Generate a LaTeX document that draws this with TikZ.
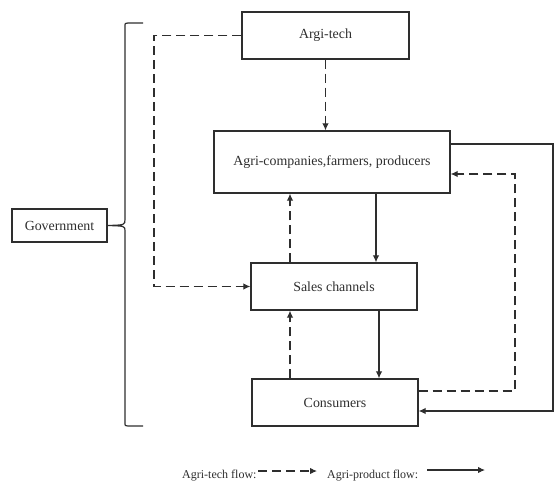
\documentclass[tikz,border=0pt]{standalone}
\usepackage{fontspec}
\setmainfont{Liberation Serif}
\usetikzlibrary{arrows.meta}
\definecolor{ink}{HTML}{2E2E2E}

\begin{document}
\begin{tikzpicture}[x=1pt, y=-1pt,
    box/.style={draw=ink, line width=1.3pt, inner sep=0pt, text=ink, font=\fontsize{13.9}{16}\selectfont},
    legend/.style={anchor=base west, inner sep=0pt, text=ink, font=\fontsize{12}{14}\selectfont},
    techflow/.style={draw=ink, line width=1.1pt, dash pattern=on 9pt off 5pt, -{Latex[length=7pt,width=6.5pt]}},
    prodflow/.style={draw=ink, line width=1.1pt, -{Latex[length=7pt,width=6.5pt]}}]
    \useasboundingbox (0,0) rectangle (554,482);

    \node[box, minimum width=167pt, minimum height=47pt] (tech) at (325.5,35.5) {Argi-tech};
    \node[box, minimum width=236pt, minimum height=62pt] (comp) at (332,162) {Agri-companies,farmers, producers};
    \node[box, minimum width=166pt, minimum height=47pt] (sales) at (334,286.5) {Sales channels};
    \node[box, minimum width=166pt, minimum height=47pt] (cons) at (335,402.5) {Consumers};
    \node[box, minimum width=95pt, minimum height=33pt] (gov) at (59.5,225.5) {Government};

    \coordinate (A) at (154,35.5);
    \coordinate (B) at (154,286.5);
    \coordinate (C) at (515,391);
    \coordinate (D) at (515,174);
    \coordinate (E) at (553,144);
    \coordinate (F) at (553,411);
    \coordinate (G) at (290,0);
    \coordinate (H) at (376,0);
    \coordinate (I) at (379,0);
    \coordinate (J) at (143,426);
    \coordinate (K) at (143,23);

    % agri-tech flow
    \draw[techflow] (tech.west) -- (A) -- (B) -- (sales.west);
    \draw[techflow] (tech.south) -- (tech.south |- comp.north);
    \draw[techflow] (sales.north -| G) -- (comp.south -| G);
    \draw[techflow] (cons.north -| G) -- (sales.south -| G);
    \draw[techflow] (cons.east |- C) -- (C) -- (D) -- (comp.east |- D);

    % agri-product flow
    \draw[prodflow] (comp.south -| H) -- (sales.north -| H);
    \draw[prodflow] (sales.south -| I) -- (cons.north -| I);
    \draw[prodflow] (comp.east |- E) -- (E) -- (F) -- (cons.east |- F);

    % government brace
    \draw[ink, line width=1.2pt] (J) -- (128,426) .. controls (125,426) .. (125,422) -- (125,231)
        .. controls (125,226) .. (gov.east) .. controls (125,225) .. (125,219)
        -- (125,27) .. controls (125,23) .. (128,23) -- (K);

    % legend
    \node[legend] (ltech) at (182,478) {Agri-tech flow:};
    \node[legend] (lprod) at (327,478) {Agri-product flow:};
    \coordinate (L1) at (258,471);
    \coordinate (L2) at (317,471);
    \coordinate (L3) at (427,470);
    \coordinate (L4) at (485,470);
    \draw[techflow] (L1) -- (L2);
    \draw[prodflow] (L3) -- (L4);
\end{tikzpicture}
\end{document}
